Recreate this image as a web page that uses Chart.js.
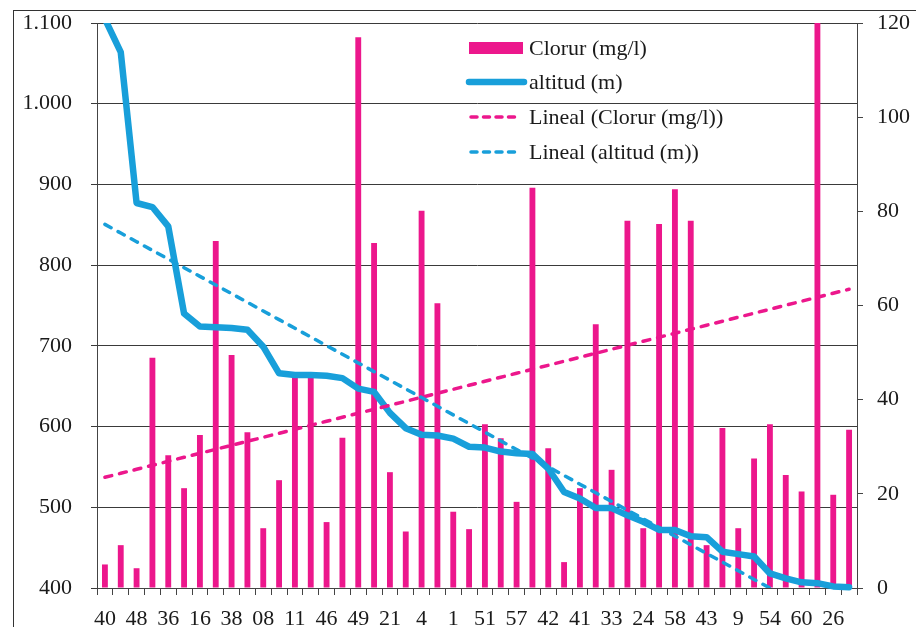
<!DOCTYPE html>
<html>
<head>
<meta charset="utf-8">
<style>
  html, body { margin: 0; padding: 0; background: #fff; overflow: hidden; }
  #wrap { width: 916px; height: 627px; }
</style>
<script src="https://cdn.jsdelivr.net/npm/chart.js@4.4.1/dist/chart.umd.min.js"></script>
</head>
<body>
<div id="wrap"><canvas id="grafic" width="916" height="627"></canvas></div>
<script>
// mostres (només s'etiqueta una de cada dues a l'eix)
const mostres = [
  '40', '', '48', '', '36', '', '16', '', '38', '', '08', '', '11', '', '46', '',
  '49', '', '21', '', '4', '', '1', '', '51', '', '57', '', '42', '', '41', '',
  '33', '', '24', '', '58', '', '43', '', '9', '', '54', '', '60', '', '26', ''
]

// clorur (mg/l), eix dret
const clorur = [
  5.0, 9.1, 4.2, 48.9, 28.2, 21.2, 32.5, 73.7, 49.5, 33.1, 12.7, 22.9,
  45, 45, 14.0, 31.9, 117.0, 73.3, 24.6, 12.0, 80.1, 60.5, 16.2, 12.5,
  34.8, 31.8, 18.3, 85.0, 29.7, 5.5, 21.2, 56.0, 25.1, 78.0, 12.7, 77.3,
  84.7, 78.0, 9.1, 34.0, 12.7, 27.5, 34.8, 24.0, 20.5, 360, 19.8, 33.6
]

// altitud (m), eix esquerre
const altitud = [
  1105, 1064, 877, 872, 848, 740, 724, 723, 722, 720, 699, 666,
  664, 664, 663, 660, 647, 643, 617, 598, 590, 589, 585, 575,
  574, 569, 567, 566, 548, 519, 511, 499, 499, 490, 482, 472,
  472, 464, 463, 445, 442, 439, 418, 412, 407, 406, 402, 401
]

const ticksAltitud = { min: 400, max: 1100, pas: 100 }
const ticksClorur = { min: 0, max: 120, pas: 20 }

const ROSA = '#EC178C'
const BLAU = '#189FDA'
const LLETRA = { family: '"Liberation Serif", "Times New Roman", serif', size: 22 }

// tendència lineal (mínims quadrats), com la "Lineal" d'Excel
const tendencia = function (valors) {
  const n = valors.length
  let sx = 0, sy = 0, sxy = 0, sxx = 0
  for (let i = 0; i < n; i++) {
    sx += i; sy += valors[i]; sxy += i * valors[i]; sxx += i * i
  }
  const m = (n * sxy - sx * sy) / (n * sxx - sx * sx)
  const b = (sy - m * sx) / n
  return valors.map((v, i) => b + m * i)
}

const milers = (v) => String(v).replace(/\B(?=(\d{3})+(?!\d))/g, '.')

// marc exterior i fons blanc
const marc = {
  id: 'marc',
  beforeDraw(chart) {
    const c = chart.ctx
    c.save()
    c.fillStyle = '#fff'
    c.fillRect(0, 0, chart.width, chart.height)
    c.strokeStyle = '#333'
    c.lineWidth = 1
    c.strokeRect(13.5, 10.5, 1000, 1000)
    c.restore()
  }
}

// llegenda dins l'àrea del gràfic
const llegenda = {
  id: 'llegenda',
  afterDraw(chart) {
    const c = chart.ctx
    const ds = chart.data.datasets
    const x0 = 469, x1 = 523, xt = 529
    const files = [48, 82, 117, 152]
    c.save()
    // Clorur: rectangle
    c.fillStyle = ds[0].backgroundColor
    c.fillRect(x0, files[0] - 6, x1 - x0, 12)
    // altitud: línia gruixuda
    c.strokeStyle = ds[1].borderColor
    c.lineWidth = 6.5
    c.lineCap = 'round'
    c.beginPath(); c.moveTo(x0, files[1]); c.lineTo(x1 + 1, files[1]); c.stroke()
    // tendències: discontínues
    c.lineWidth = 3.5
    c.setLineDash([6, 6.5])
    for (let k = 2; k < 4; k++) {
      c.strokeStyle = ds[k].borderColor
      c.beginPath(); c.moveTo(x0 + 2, files[k]); c.lineTo(x1 - 4, files[k]); c.stroke()
    }
    c.setLineDash([])
    c.fillStyle = '#1a1a1a'
    c.font = `${LLETRA.size}px ${LLETRA.family}`
    c.textBaseline = 'middle'
    c.textAlign = 'left'
    for (let k = 0; k < 4; k++) {
      c.fillText(ds[k].label, xt, files[k] + 1)
    }
    c.restore()
  }
}

// els eixos verticals no han de reservar espai extra a dalt i a baix
const ajustaEix = (amplada) => (s) => {
  s.width = amplada
  s.paddingTop = 0
  s.paddingBottom = 0
}

const ctx = document.getElementById('grafic').getContext('2d')

const grafic = new Chart(ctx, {
  type: 'bar',
  data: {
    labels: mostres,
    datasets: [
      {
        label: 'Clorur (mg/l)',
        data: clorur,
        yAxisID: 'y1',
        backgroundColor: ROSA,
        borderWidth: 0,
        barPercentage: 0.37,
        categoryPercentage: 1.0,
        order: 4,
      },
      {
        type: 'line',
        label: 'altitud (m)',
        data: altitud,
        yAxisID: 'y',
        borderColor: BLAU,
        borderWidth: 6.5,
        borderJoinStyle: 'round',
        borderCapStyle: 'round',
        pointRadius: 0,
        tension: 0,
        clip: { left: 5, top: 0, right: 5, bottom: 5 },
        order: 3,
      },
      {
        type: 'line',
        label: 'Lineal (Clorur (mg/l))',
        data: tendencia(clorur),
        yAxisID: 'y1',
        borderColor: ROSA,
        borderWidth: 3.5,
        borderDash: [7, 8],
        borderCapStyle: 'round',
        pointRadius: 0,
        clip: 0,
        order: 2,
      },
      {
        type: 'line',
        label: 'Lineal (altitud (m))',
        data: tendencia(altitud),
        yAxisID: 'y',
        borderColor: BLAU,
        borderWidth: 3.5,
        borderDash: [7, 8],
        borderCapStyle: 'round',
        pointRadius: 0,
        clip: 0,
        order: 1,
      },
    ],
  },
  options: {
    responsive: false,
    animation: false,
    layout: { padding: { top: 23, left: 0, right: 0, bottom: 0 } },
    plugins: {
      legend: { display: false },
      tooltip: { enabled: false },
    },
    scales: {
      x: {
        offset: true,
        grid: { offset: true, drawOnChartArea: false, tickLength: 7, color: '#444' },
        border: { color: '#444' },
        ticks: { autoSkip: false, maxRotation: 0, padding: 11, color: '#1a1a1a', font: LLETRA },
        afterFit: (s) => { s.height = 39 },
      },
      y: {
        position: 'left',
        min: ticksAltitud.min,
        max: ticksAltitud.max,
        ticks: { stepSize: ticksAltitud.pas, padding: 19, color: '#1a1a1a', font: LLETRA, callback: milers },
        grid: { color: '#3a3a3a', tickLength: 6 },
        border: { color: '#444' },
        afterFit: ajustaEix(97),
      },
      y1: {
        position: 'right',
        min: ticksClorur.min,
        max: ticksClorur.max,
        ticks: { stepSize: ticksClorur.pas, padding: 14, color: '#1a1a1a', font: LLETRA },
        grid: { drawOnChartArea: false, tickLength: 6, color: '#444' },
        border: { color: '#444' },
        afterFit: ajustaEix(59),
      },
    },
  },
  plugins: [marc, llegenda],
})
</script>
</body>
</html>
